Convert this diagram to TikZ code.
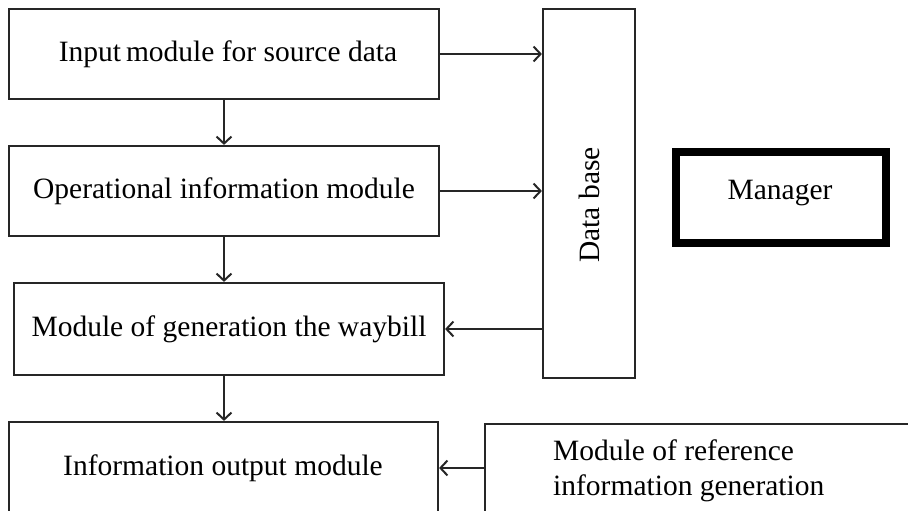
\documentclass[tikz,border=0pt]{standalone}
\usepackage{fontspec}
\setmainfont{Liberation Serif}
\usetikzlibrary{arrows.meta}
\begin{document}
\begin{tikzpicture}[x=1pt,y=-1pt,
  every node/.style={font=\fontsize{29.5}{35}\selectfont, inner sep=0pt},
  block/.style={draw=black!85, line width=2.2pt, minimum width=#1, align=center},
  arr/.style={draw=black!85, line width=2pt, -{Straight Barb[length=7pt,width=15pt,line width=2pt]}}]
  \useasboundingbox (0,0) rectangle (908,511);
  \clip (0,0) rectangle (908,511);

  % left column of modules
  \node[block=430pt, minimum height=90pt] (b1) at (224,54) {};
  \node (b1t) at (228,54) {Input\,module for source data};
  \node[block=430pt, minimum height=90pt] (b2) at (224,191) {Operational information module};
  \node[block=430pt, minimum height=92pt] (b3) at (229,329) {Module of generation the waybill};
  \node[block=429pt, minimum height=100pt] (b4) at (223.5,472) {};
  \node (b4t) at (223,468) {Information output module};

  % data base column
  \node[block=92pt, minimum height=369pt] (db) at (589,193.5) {};
  \node[rotate=90] (dbt) at (589,205) {Data base};

  % manager
  \node[draw=black, line width=8pt, minimum width=210pt, minimum height=91pt] (mgr) at (781,197.5) {};
  \node (mgrt) at (780,193) {Manager};

  % reference information module
  \node[block=475pt, minimum height=116pt] (ref) at (722.5,482) {};
  \node[align=left, anchor=west] (reft) at (553,471) {Module of reference\\information generation};

  % flows
  \draw[arr] (b1.south) -- (b1.south |- b2.north);
  \draw[arr] (b2.south) -- (b2.south |- b3.north);
  \draw[arr] (b2.south |- b3.south) -- (b2.south |- b4.north);
  \draw[arr] (b1.east) -- (b1.east -| db.west);
  \draw[arr] (b2.east) -- (b2.east -| db.west);
  \draw[arr] (db.west |- b3.east) -- (b3.east);
  \draw[arr] (ref.west |- b4t) -- (b4.east |- b4t);
\end{tikzpicture}
\end{document}
